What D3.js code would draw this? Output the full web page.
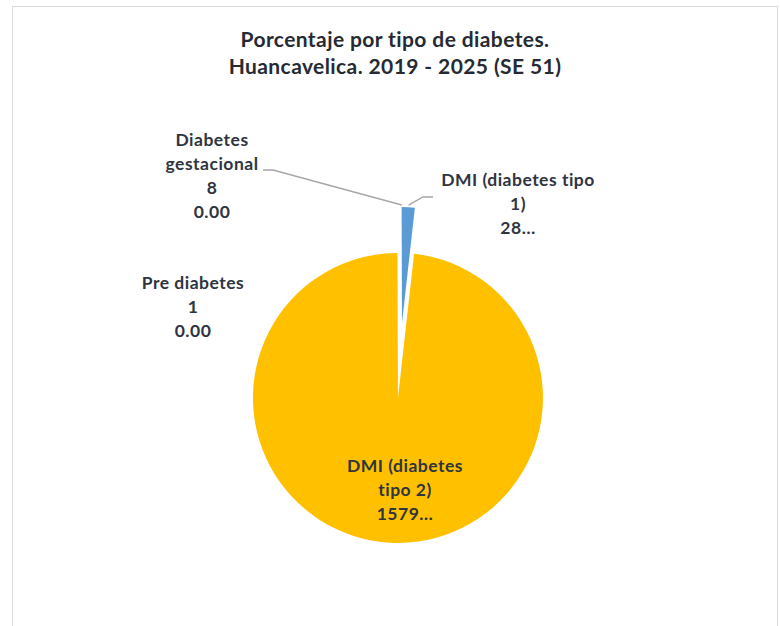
<!DOCTYPE html>
<html>
<head>
<meta charset="utf-8">
<script src="https://cdn.jsdelivr.net/npm/d3@7"></script>
<style>
  body { margin: 0; background: #fff; }
  svg { display: block; }
</style>
</head>
<body>
<script>
// pie values (the two large labels are cut off in the original chart)
const categories = ["DMI (diabetes tipo 1)", "DMI (diabetes tipo 2)", "Diabetes gestacional", "Pre diabetes"];
const values = [285, 15790, 8, 1];
const labelLines = [
  ["DMI (diabetes tipo", "1)", "28…"],
  ["DMI (diabetes", "tipo 2)", "1579…"],
  ["Diabetes", "gestacional", "8", "0.00"],
  ["Pre diabetes", "1", "0.00"]
];
const titleLines = ["Porcentaje por tipo de diabetes.", "Huancavelica. 2019 - 2025 (SE 51)"];

const colors = ["#5B9BD5", "#FFC000", "#70AD47", "#ED7D31"];

const width = 780, height = 626;
const center = {x: 402, y: 323};
const radius = [116, 145, 116, 116];
const explode = [0, 75, 0, 0];
// label anchor (middle of first line) for each slice
const labelPos = [[518, 180], [405, 466], [212, 140], [193, 283]];
const lineGap = 24;

const svg = d3.select("body").append("svg").attr("width", width).attr("height", height);

// chart frame
svg.append("rect")
   .attr("x", 12.5).attr("y", 6.5)
   .attr("width", 765).attr("height", 640)
   .attr("fill", "#fff")
   .attr("stroke", "#d9d9d9");

// title
svg.append("text")
   .attr("text-anchor", "middle")
   .attr("font-family", "Lato")
   .attr("font-weight", "bold")
   .attr("font-size", "21px")
   .attr("letter-spacing", "0.4px")
   .attr("fill", "#262b33")
   .selectAll("tspan")
   .data(titleLines)
   .enter()
   .append("tspan")
   .attr("x", 395)
   .attr("y", (d, i) => 47 + i * 27)
   .text(d => d);

const pie = d3.pie().sort(null).value(d => d)(values);
const arc = d3.arc().innerRadius(0).outerRadius((d) => radius[d.index]);

const dir = (a) => [Math.sin(a), -Math.cos(a)];

const groupPie = svg.append("g").attr("transform", `translate(${center.x}, ${center.y})`);

groupPie.selectAll("path.slice")
        .data(pie)
        .enter()
        .append("path")
        .attr("class", "slice")
        .attr("fill", (d, i) => colors[i])
        .attr("transform", d => {
          const m = (d.startAngle + d.endAngle) / 2;
          const v = dir(m);
          return `translate(${v[0] * explode[d.index]}, ${v[1] * explode[d.index]})`;
        })
        .attr("d", arc);

// leader lines for the two small slices near the top
const leader = (d, bend, end) => {
  const m = (d.startAngle + d.endAngle) / 2;
  const v = dir(m);
  const r = radius[d.index];
  const s = [center.x + v[0] * (r + 2 + explode[d.index]), center.y + v[1] * (r + 2 + explode[d.index])];
  return [s, bend, end];
};
const leaders = [
  leader(pie[0], [423, 197], [433, 197]),
  leader(pie[2], [273, 170], [263, 170])
];
svg.selectAll("path.leader")
   .data(leaders)
   .enter()
   .append("path")
   .attr("class", "leader")
   .attr("fill", "none")
   .attr("stroke", "#a6a6a6")
   .attr("stroke-width", 1.3)
   .attr("d", d3.line());

// data labels
const labels = svg.selectAll("text.label")
   .data(labelLines)
   .enter()
   .append("text")
   .attr("class", "label")
   .attr("text-anchor", "middle")
   .attr("font-family", "Lato")
   .attr("font-weight", "bold")
   .attr("font-size", "17.5px")
   .attr("letter-spacing", "0.5px")
   .attr("fill", "#2f3540");

labels.selectAll("tspan")
      .data((d, i) => d.map(t => ({t: t, i: i})))
      .enter()
      .append("tspan")
      .attr("x", d => labelPos[d.i][0])
      .attr("y", (d, j) => labelPos[d.i][1] + 6 + j * lineGap)
      .text(d => d.t);
</script>
</body>
</html>
